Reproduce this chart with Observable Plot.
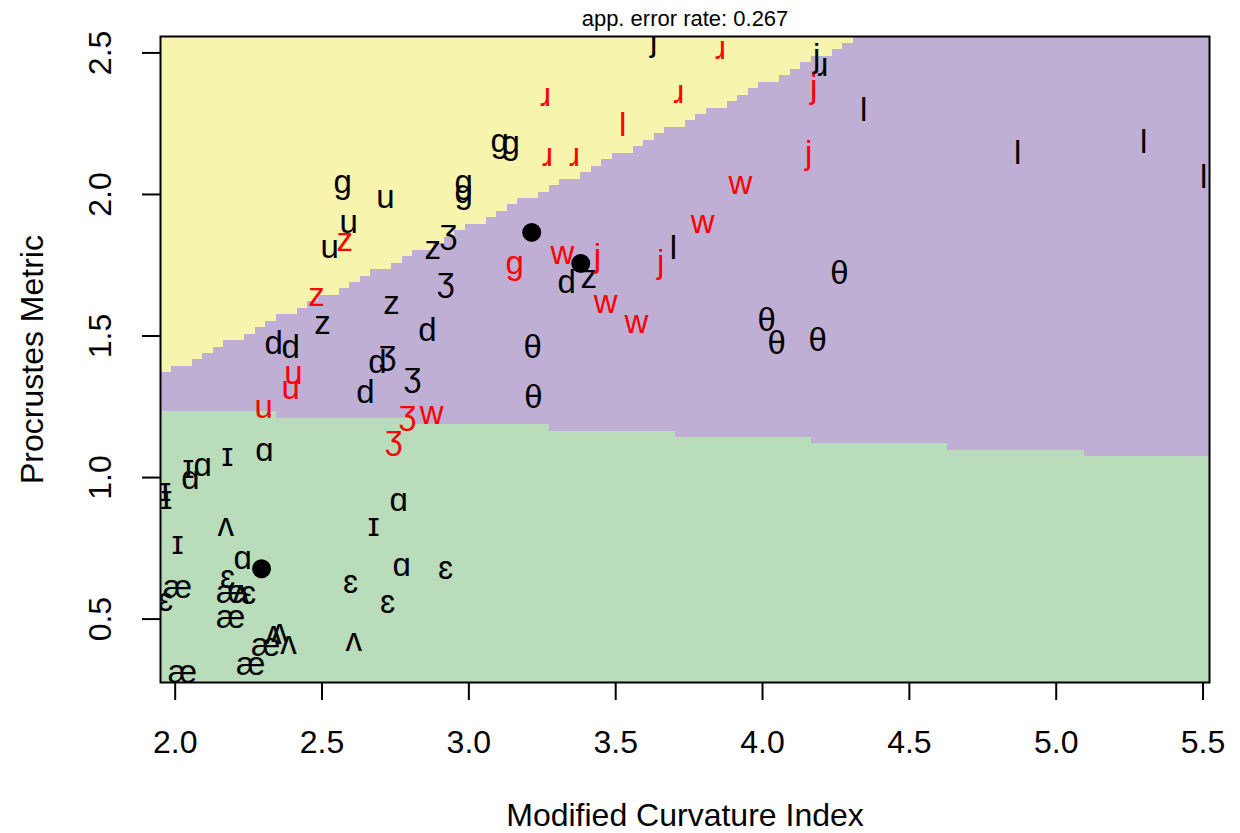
<!DOCTYPE html>
<html>
<head>
<meta charset="utf-8">
<script src="https://cdn.jsdelivr.net/npm/d3@7"></script>
<script src="https://cdn.jsdelivr.net/npm/@observablehq/plot@0.6"></script>
<style>
  html, body { margin: 0; padding: 0; background: #ffffff; }
</style>
</head>
<body>
<div id="chart"></div>
<script>
// ---- data ----
const phones = [
  "j","ɹ","j","ɹ","ɹ","ɹ","j","l","ɹ","ɹ",
  "j","g","g","g","u","g","g","u","u","z",
  "z","ʒ","w","w","w","j","g","d","z","j",
  "l","θ","w","w","θ","θ","θ","θ","θ","l",
  "l","l","l","ʒ","z","z","z","d","d","d",
  "d","ʒ","ʒ","u","u","d","u","ʒ","w","ʒ",
  "ɑ","ɪ","ɪ","ɑ","ɑ","ɪ","ɪ","ɑ","ʌ","ɪ",
  "ɪ","ɑ","ɑ","ɛ","ɛ","ɛ","æ","ɛ","æ","ʌ",
  "ɛ","ɛ","æ","ʌ","ʌ","ʌ","ʌ","æ","æ","æ"
];
const curvature = [
  3.629,3.857,4.184,4.205,3.261,3.715,4.174,3.524,3.268,3.360,
  4.157,3.105,3.142,2.570,2.716,2.982,2.982,2.591,2.526,2.577,
  2.877,2.931,3.796,3.925,3.319,3.438,3.156,3.333,3.408,3.653,
  3.697,4.262,3.466,3.571,4.014,4.048,4.188,3.217,3.220,4.344,
  4.869,5.298,5.502,2.921,2.481,2.737,2.502,2.859,2.335,2.393,
  2.689,2.723,2.808,2.403,2.393,2.648,2.301,2.791,2.873,2.744,
  2.304,2.178,2.045,2.094,2.052,1.967,1.970,2.761,2.172,2.676,
  2.008,2.230,2.771,2.921,2.178,2.597,2.008,1.967,2.189,2.223,
  2.250,2.723,2.189,2.335,2.355,2.386,2.608,2.308,2.257,2.025
];
const procrustes = [
  2.544,2.516,2.488,2.456,2.350,2.360,2.378,2.244,2.138,2.138,
  2.145,2.170,2.163,2.025,1.989,2.025,1.989,1.901,1.813,1.837,
  1.809,1.848,1.901,2.039,1.792,1.781,1.738,1.689,1.707,1.760,
  1.809,1.721,1.618,1.548,1.555,1.473,1.484,1.459,1.283,2.297,
  2.145,2.184,2.060,1.678,1.643,1.615,1.544,1.519,1.473,1.459,
  1.406,1.420,1.343,1.367,1.314,1.300,1.247,1.208,1.226,1.120,
  1.096,1.078,1.035,1.042,0.996,0.954,0.926,0.919,0.830,0.830,
  0.767,0.714,0.689,0.678,0.647,0.629,0.611,0.565,0.594,0.594,
  0.590,0.558,0.505,0.449,0.456,0.413,0.423,0.406,0.339,0.311
];
const misclassified = [
  0,1,0,0,1,1,1,1,1,1,
  1,0,0,0,0,0,0,0,0,1,
  0,0,1,1,1,1,1,0,0,1,
  0,0,1,1,0,0,0,0,0,0,
  0,0,0,0,1,0,0,0,0,0,
  0,0,0,1,1,0,1,1,1,1,
  0,0,0,0,0,0,0,0,0,0,
  0,0,0,0,0,0,0,0,0,0,
  0,0,0,0,0,0,0,0,0,0
];
const centroidX = [3.214, 3.381, 2.294];
const centroidY = [1.866, 1.756, 0.678];

const xTicks = [2.0, 2.5, 3.0, 3.5, 4.0, 4.5, 5.0, 5.5];
const yTicks = [0.5, 1.0, 1.5, 2.0, 2.5];
const xDomain = [1.950, 5.522];
const yDomain = [0.276, 2.558];

// decision boundaries (two end points each)
const upperBoundary = [[1.95, 1.360], [4.31, 2.542]];
const lowerBoundary = [[1.95, 1.243], [5.52, 1.064]];
const regionNames = ["upper", "middle", "lower"];

const titleText = "app. error rate: 0.267";
const xLabel = "Modified Curvature Index";
const yLabel = "Procrustes Metric";

// ---- build ----
function lineAt(b, x) {
  const [[x0, y0], [x1, y1]] = b;
  return y0 + (y1 - y0) * (x - x0) / (x1 - x0);
}
function region(x, y) {
  if (y > lineAt(upperBoundary, x)) return "upper";
  if (y < lineAt(lowerBoundary, x)) return "lower";
  return "middle";
}

const points = phones.map((p, i) => ({
  phone: p, x: curvature[i], y: procrustes[i], wrong: misclassified[i] === 1
}));
const centroids = centroidX.map((x, i) => ({x, y: centroidY[i]}));
const descender = new Set(["g", "ʒ"]);
const font = "'Liberation Sans', Arial, Helvetica, 'DejaVu Sans', sans-serif";
const fmt = d3.format(".1f");

function labelMarks(wrong, fill) {
  return [false, true].map(desc => Plot.text(
    points.filter(d => d.wrong === wrong && descender.has(d.phone) === desc),
    {x: "x", y: "y", text: "phone", fill, fontSize: 33, textAnchor: "middle",
     lineAnchor: "middle", dy: desc ? -5 : 0, clip: true}
  ));
}

const chart = Plot.plot({
  width: 1240,
  height: 833,
  marginLeft: 160,
  marginRight: 31,
  marginTop: 36,
  marginBottom: 151,
  style: {fontFamily: font, background: "#ffffff", color: "#000000"},
  x: {domain: xDomain, label: null},
  y: {domain: yDomain, label: null},
  color: {domain: regionNames, range: ["#F7F4AE", "#BFAFD5", "#B9DDBB"]},
  marks: [
    Plot.raster({
      fill: region,
      x1: xDomain[0], x2: xDomain[1], y1: yDomain[0], y2: yDomain[1],
      width: 100, height: 100, imageRendering: "pixelated"
    }),
    ...labelMarks(false, "#000000"),
    ...labelMarks(true, "#FF0000"),
    Plot.dot(centroids, {x: "x", y: "y", r: 9.5, fill: "#000000", stroke: "none"}),
    Plot.frame({stroke: "#000000", strokeWidth: 2}),
    Plot.axisX({ticks: xTicks, tickSize: 18, tickPadding: 30, fontSize: 32,
      tickFormat: fmt, strokeWidth: 2, label: null}),
    Plot.axisY({ticks: yTicks, tickSize: 18, tickFormat: () => "", strokeWidth: 2, label: null}),
    Plot.text(yTicks, {y: d => d, frameAnchor: "left", text: d => fmt(d), rotate: -90,
      dx: -60, fontSize: 32, textAnchor: "middle", lineAnchor: "middle"}),
    Plot.text([xLabel], {frameAnchor: "bottom", text: d => d, dy: 133, fontSize: 32,
      textAnchor: "middle", lineAnchor: "middle"}),
    Plot.text([yLabel], {frameAnchor: "left", text: d => d, dx: -128, rotate: -90, fontSize: 32,
      textAnchor: "middle", lineAnchor: "middle"}),
    Plot.text([titleText], {frameAnchor: "top", text: d => d, dy: -18, fontSize: 22,
      textAnchor: "middle", lineAnchor: "middle"})
  ]
});
document.getElementById("chart").appendChild(chart);
</script>
</body>
</html>
